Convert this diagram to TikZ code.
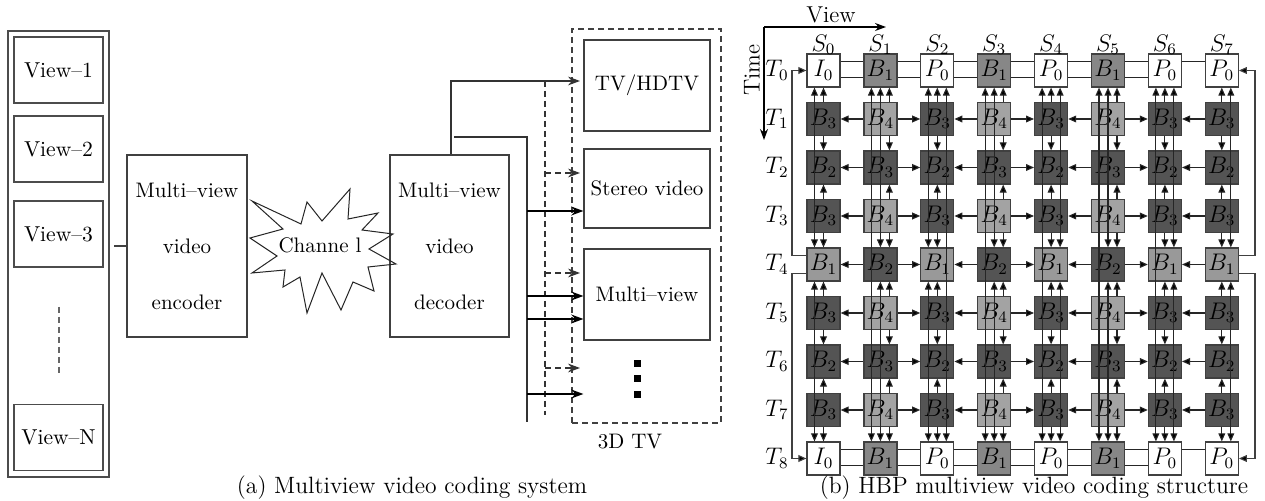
\documentclass[tikz,border=0pt]{standalone}
\usepackage{fontspec}
\usetikzlibrary{arrows.meta,backgrounds,calc}
\pgfdeclarelayer{bottom}
\pgfsetlayers{bottom,background,main}
\newcommand\hbpcell[4]{\node[cellbox,#4] (n#1#2) at ({823.5+56.9*#1},{70.5+48.5*#2}) {$#3$};}
\begin{document}
\begin{tikzpicture}[x=0.5pt,y=-0.5pt,
  txt/.style={font=\fontsize{10.5}{12.6}\selectfont,inner sep=0pt},
  captxt/.style={font=\fontsize{11.8}{13}\selectfont,inner sep=0pt},
  vbox/.style={draw=black!70,line width=0.8pt,minimum width=44.5pt,minimum height=33pt,inner sep=0pt,font=\fontsize{10.8}{12.6}\selectfont},
  blk/.style={draw=black!75,line width=0.6pt,inner sep=0pt,align=center},
  coder/.style={blk,minimum width=60pt,minimum height=91pt,font=\fontsize{10.5}{28}\selectfont},
  tvbox/.style={blk,minimum width=63pt,font=\fontsize{10.5}{12.6}\selectfont},
  arr/.style={-{Stealth[length=6pt,width=4.4pt]},line width=0.6pt,draw=black!80},
  tarr/.style={-{Stealth[length=6pt,width=4.4pt]},line width=1pt,draw=black},
  darr/.style={arr,dashed,dash pattern=on 3pt off 2pt},
  cellbox/.style={draw=black!75,line width=0.6pt,minimum width=16.5pt,minimum height=16.5pt,inner sep=0pt,font=\fontsize{12}{13}\selectfont},
  cw/.style={fill=white}, c1/.style={fill=black!47}, c1b/.style={fill=black!40},
  c4/.style={fill=black!36}, cd/.style={fill=black!67},
  ga/.style={-{Triangle[length=4pt,width=3.4pt,fill=black]},line width=0.55pt,draw=black!85},
  gb/.style={{Triangle[length=4pt,width=3.4pt,fill=black]}-{Triangle[length=4pt,width=3.4pt,fill=black]},line width=0.55pt,draw=black!85},
  lab/.style={font=\fontsize{11.5}{12}\selectfont,inner sep=0pt},
]
\useasboundingbox (0,0) rectangle (1265,501);
\begin{pgfonlayer}{bottom}
\fill[white] (0,0) rectangle (1265,501);
\end{pgfonlayer}

% ---------------- panel (a) ----------------
\node[draw=black!70,line width=0.8pt,minimum width=50.5pt,minimum height=223pt,inner sep=0pt] (outer) at (58.5,254) {};
\node[vbox] (v1) at (58.5,70) {View--1};
\node[vbox] (v2) at (58.5,149) {View--2};
\node[vbox] (v3) at (58.5,234) {View--3};
\node[vbox] (vn) at (58.5,437.5) {View--N};
\coordinate (dt) at (59,307); \coordinate (db) at (59,376);
\draw[dashed,black!60,line width=0.6pt,dash pattern=on 3pt off 2pt] (dt) -- (db);

\node[coder] (enc) at (187,246) {Multi--view\\video\\encoder};
\node[coder,minimum width=59.5pt] (dec) at (449.5,246) {Multi--view\\video\\decoder};
\draw[black!75,line width=0.6pt] (enc.west) -- ([xshift=2pt]enc.west -| outer.east);

\draw[line width=0.5pt,black!85] (252,201) -- (301,224) -- (307,202) -- (322,221) -- (350,189) -- (348,219)
  -- (378,213) -- (362,230) -- (393,234) -- (369,249) -- (396,264) -- (368,267) -- (374,291)
  -- (353,282) -- (341,310) -- (322,273) -- (307,313) -- (300,277) -- (283,287) -- (285,270)
  -- (252,273) -- (277,256) -- (250,238) -- (283,229) -- cycle;
\node[txt] (ch) at (320,245) {Channe l};

\node[tvbox,minimum height=45.5pt] (tv) at (647,85.5) {TV/HDTV};
\node[tvbox,minimum height=39.5pt] (st) at (647,188.5) {Stereo video};
\node[tvbox,minimum height=45.5pt] (mv) at (647,294.5) {Multi--view};
\node[draw=black!75,dashed,dash pattern=on 3pt off 2pt,line width=0.6pt,minimum width=74.5pt,minimum height=197pt,inner sep=0pt] (tv3d) at (646.5,226) {};
\node[txt] (l3d) at (630,442) {3D TV};

\coordinate (p1) at (580,81);
\draw[arr] ([xshift=0.75pt]dec.north) |- (p1);
\coordinate (q0) at (454,137); \coordinate (q1) at (527,137); \coordinate (q2) at (527,422);
\draw[line width=0.7pt,black!80] (q0) -- (q1) -- (q2);
\coordinate (r0) at (545,81); \coordinate (r1) at (545,415);
\draw[line width=0.6pt,black!80,dashed,dash pattern=on 3pt off 2pt] (r0) -- (r1);
\foreach \y [count=\k] in {173,273,368} {
  \coordinate (da\k) at (545,\y); \coordinate (de\k) at (580,\y);
  \draw[darr] (da\k) -- (de\k);
}
\foreach \y [count=\k] in {211,296,319,394} {
  \coordinate (sa\k) at (527,\y);
  \draw[tarr] (sa\k) -- (sa\k -| st.west);
}
\foreach \y [count=\k] in {364,379,395} {
  \node[fill=black,minimum size=3.5pt,inner sep=0pt] (dot\k) at (637,\y) {};
}
\node[captxt] (capa) at (412,488) {(a) Multiview video coding system};

% ---------------- panel (b) ----------------
\foreach \j in {0,8} {
  \hbpcell{0}{\j}{I_0}{cw} \hbpcell{1}{\j}{B_1}{c1} \hbpcell{2}{\j}{P_0}{cw} \hbpcell{3}{\j}{B_1}{c1}
  \hbpcell{4}{\j}{P_0}{cw} \hbpcell{5}{\j}{B_1}{c1} \hbpcell{6}{\j}{P_0}{cw} \hbpcell{7}{\j}{P_0}{cw}
}
\foreach \j in {1,3,5,7} {
  \hbpcell{0}{\j}{B_3}{cd} \hbpcell{1}{\j}{B_4}{c4} \hbpcell{2}{\j}{B_3}{cd} \hbpcell{3}{\j}{B_4}{c4}
  \hbpcell{4}{\j}{B_3}{cd} \hbpcell{5}{\j}{B_4}{c4} \hbpcell{6}{\j}{B_3}{cd} \hbpcell{7}{\j}{B_3}{cd}
}
\foreach \j in {2,6} {
  \hbpcell{0}{\j}{B_2}{cd} \hbpcell{1}{\j}{B_3}{cd} \hbpcell{2}{\j}{B_2}{cd} \hbpcell{3}{\j}{B_3}{cd}
  \hbpcell{4}{\j}{B_2}{cd} \hbpcell{5}{\j}{B_3}{cd} \hbpcell{6}{\j}{B_2}{cd} \hbpcell{7}{\j}{B_2}{cd}
}
\hbpcell{0}{4}{B_1}{c1b} \hbpcell{1}{4}{B_2}{cd} \hbpcell{2}{4}{B_1}{c1b} \hbpcell{3}{4}{B_2}{cd}
\hbpcell{4}{4}{B_1}{c1b} \hbpcell{5}{4}{B_2}{cd} \hbpcell{6}{4}{B_1}{c1b} \hbpcell{7}{4}{B_1}{c1b}

\foreach \i in {0,...,7} { \node[lab] (s\i) at ({823.5+56.9*\i},45) {$S_{\i}$}; }
\foreach \j in {0,...,8} { \node[lab] (t\j) at (777,{70.5+48.5*\j}) {$T_{\j}$}; }

\coordinate (O) at (764,27); \coordinate (Vx) at (886,27); \coordinate (Ty) at (764,140);
\draw[-{Stealth[length=5.5pt,width=4pt]},line width=0.6pt] (O) -- (Vx);
\draw[-{Stealth[length=5.5pt,width=4pt]},line width=0.6pt] (O) -- (Ty);
\node[lab,font=\fontsize{11.5}{12}\selectfont] (vw) at (831,15) {View};
\node[lab,font=\fontsize{11.5}{12}\selectfont,rotate=90] (tm) at (752,70) {Time};

% horizontal references (behind boxes)
\begin{pgfonlayer}{background}
\foreach \j in {1,...,7} {
  \draw[ga] (n1\j) -- (n0\j); \draw[ga] (n1\j) -- (n2\j);
  \draw[ga] (n3\j) -- (n2\j); \draw[ga] (n3\j) -- (n4\j);
  \draw[ga] (n5\j) -- (n4\j); \draw[ga] (n5\j) -- (n6\j);
  \draw[ga] (n7\j) -- (n6\j);
}
\foreach \j in {0,8} {
  \foreach \a/\b in {1/0,1/2,3/2,3/4,5/4,5/6} {
    \draw[ga] ([yshift=-3.5pt]n\a\j.center) -- ([yshift=-3.5pt]n\b\j.center);
  }
  \foreach \a/\b in {2/0,4/2,6/4,7/6} {
    \draw[ga] ([yshift=4.5pt]n\a\j.center) -- ([yshift=4.5pt]n\b\j.center);
  }
}
\end{pgfonlayer}

% vertical references (over boxes)
\foreach \i/\s in {0/0,1/4.5,2/0,3/4.5,4/0,5/4.5,6/0,7/0} {
  \foreach \j/\a/\b in {1/0/2,3/2/4,5/4/6,7/6/8} {
    \draw[ga] ([xshift=\s pt]n\i\j.north) -- ([xshift=\s pt]n\i\a.south);
    \draw[ga] ([xshift=\s pt]n\i\j.south) -- ([xshift=\s pt]n\i\b.north);
  }
}
\foreach \i/\m in {0/-4.5,1/0,2/-4.5,3/0,4/4.5,5/0,6/4.5,7/4.5} {
  \draw[gb] ([xshift=\m pt]n\i0.south) -- ([xshift=\m pt]n\i4.north);
  \draw[gb] ([xshift=\m pt]n\i4.south) -- ([xshift=\m pt]n\i8.north);
}
\foreach \i/\l in {1/-4.5,2/4.5,3/-4.5,4/-4.5,5/-4.5,6/-4.5} {
  \draw[gb] ([xshift=\l pt]n\i0.south) -- ([xshift=\l pt]n\i8.north);
}

% loops to key frames
\coordinate (L) at (792,0); \coordinate (R) at (1255,0);
\coordinate (la) at ([yshift=4.5pt]n04.west); \coordinate (lb) at ([yshift=-4.5pt]n04.west);
\coordinate (ra) at ([yshift=4.5pt]n74.east); \coordinate (rb) at ([yshift=-4.5pt]n74.east);
\draw[ga,draw=black!75] (la) -- (la -| L) |- (n00.west);
\draw[ga,draw=black!75] (lb) -- (lb -| L) |- (n08.west);
\draw[ga,draw=black!75] (ra) -- (ra -| R) |- (n70.east);
\draw[ga,draw=black!75] (rb) -- (rb -| R) |- (n78.east);

\node[captxt] (capb) at (1034,488) {(b) HBP multiview video coding structure};
\end{tikzpicture}
\end{document}
